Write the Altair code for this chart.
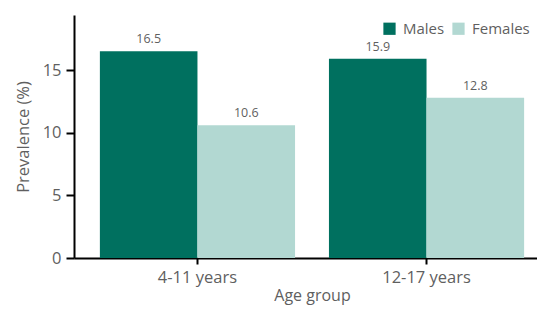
import altair as alt
import pandas as pd

age_groups = ["4-11 years", "4-11 years", "12-17 years", "12-17 years"]
sexes = ["Males", "Females", "Males", "Females"]
prevalence = [16.5, 10.6, 15.9, 12.8]
labels = ["16.5", "10.6", "15.9", "12.8"]

df = pd.DataFrame({"Age group": age_groups, "Sex": sexes,
                   "Prevalence": prevalence, "Label": labels})

FONT = "Open Sans"
GREY = "#5f5f5f"
order = ["4-11 years", "12-17 years"]

x_enc = alt.X("Age group:N", sort=order,
              scale=alt.Scale(paddingInner=0.148, paddingOuter=0.113, range=[0, 476]),
              axis=alt.Axis(title="Age group", labelAngle=0, domainColor="#000",
                            domainWidth=2, tickColor="#000", tickWidth=2, tickSize=6,
                            labelFontSize=16.5, labelColor=GREY, labelFont=FONT,
                            labelPadding=5, titleFontSize=16, titleColor=GREY,
                            titleFont=FONT, titleFontWeight="normal", titlePadding=2))
xoff = alt.XOffset("Sex:N", sort=["Males", "Females"])

bars = alt.Chart(df).mark_bar().encode(
    x=x_enc,
    xOffset=xoff,
    y=alt.Y("Prevalence:Q", scale=alt.Scale(domain=[0, 19.4], nice=False),
            axis=alt.Axis(title="Prevalence (%)", values=[0, 5, 10, 15], domainColor="#000",
                          domainWidth=2, tickColor="#000", tickWidth=2, tickSize=8,
                          labelFontSize=16.5, labelColor=GREY, labelFont=FONT,
                          labelPadding=5, grid=False, titleFontSize=16.5, titleColor=GREY,
                          titleFont=FONT, titleFontWeight="normal", titlePadding=11)),
    color=alt.Color("Sex:N", sort=["Males", "Females"],
                    scale=alt.Scale(domain=["Males", "Females"], range=["#00705f", "#b2d8d2"]),
                    legend=alt.Legend(title=None, orient="none", direction="horizontal",
                                      legendX=308, legendY=6, symbolType="square",
                                      symbolSize=150, symbolStrokeWidth=0, labelFontSize=15,
                                      labelColor=GREY, labelFont=FONT, columnPadding=6,
                                      labelOffset=6, labelLimit=200, symbolOpacity=1)),
)

text = alt.Chart(df).mark_text(dy=-12, fontSize=12.5, color=GREY, font=FONT).encode(
    x=alt.X("Age group:N", sort=order),
    xOffset=xoff,
    y=alt.Y("Prevalence:Q"),
    text="Label:N",
)

chart = (bars + text).properties(
    width=463, height=243,
    autosize=alt.AutoSizeParams(type="none"),
    padding={"left": 66, "top": 7, "right": 0, "bottom": 49},
).configure_view(stroke=None)

chart.save("out.html", embed_options={"renderer": "svg", "actions": False})
